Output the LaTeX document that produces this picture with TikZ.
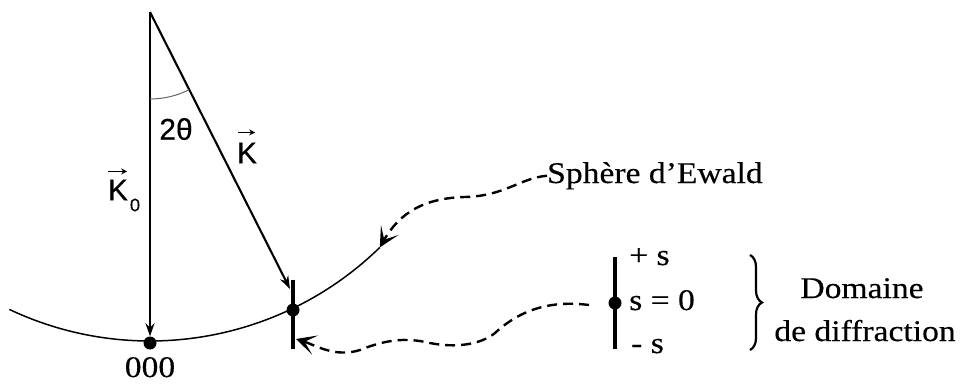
\documentclass[tikz,border=0pt]{standalone}
\usepackage{fontspec}
\usepackage{graphicx}
\setmainfont{Liberation Serif}[FakeBold=0.3]
\newfontfamily\sansf{Liberation Sans}[FakeBold=0.3]
\usetikzlibrary{arrows.meta,decorations.pathreplacing,calc}
\newcommand{\hstretch}[1]{\scalebox{1.12}[1]{#1}}
\begin{document}
\begin{tikzpicture}[x=1pt,y=1pt,
  lbl/.style={font=\fontsize{30}{32}\selectfont, inner sep=0pt},
  sanslbl/.style={font=\sansf\fontsize{30}{32}\selectfont, inner sep=0pt},
  dotn/.style={circle, fill=black, inner sep=0pt, minimum size=13pt},
  vecline/.style={line width=2.1pt, -{Stealth[length=13pt,width=9pt]}},
  vecsmall/.style={line width=1.5pt, -{Stealth[length=6pt,width=6pt]}},
  barline/.style={line width=3.4pt},
  sphere/.style={line width=1.5pt},
  dsh/.style={line width=2.4pt, dash pattern=on 10pt off 6pt, -{Stealth[length=20pt,width=20pt,inset=11pt]}},
  bracestyle/.style={line width=2.2pt, decorate, decoration={brace, amplitude=12pt}}
]
\useasboundingbox (0,0) rectangle (963,-383);
\coordinate (O) at (150,-12);
\coordinate (arcL) at ($(O)+(-115.3:329)$);
\coordinate (arcR) at ($(O)+(-45.7:329)$);
\coordinate (Ktip) at (290,-289);
\coordinate (bt) at (293,-280);
\coordinate (bb) at (293,-349);
\coordinate (tipB) at (296,-339);
\coordinate (c2) at (589,-305);
\coordinate (rt) at (615,-257);
\coordinate (rb) at (615,-349);
\coordinate (brT) at (750,-255);
\coordinate (brB) at (750,-350);

% Ewald sphere
\draw[sphere] (arcL) arc[start angle=-115.3, end angle=-45.7, radius=329];
% bar and dots
\draw[barline] (bt) -- (bb);
\node[dotn] (d000) at (150,-343) {};
\node[dotn] (dP) at (293,-310) {};
% vectors
\draw[vecline] (O) -- (d000);
\draw[vecline] (O) -- (Ktip);
% angle
\draw[line width=1pt, black!60] ($(O)+(0,-87)$) arc[start angle=-90, end angle=-63.3, radius=87];

% labels
\node[sanslbl] (tt) at (176,-129) {2θ};
\node[sanslbl] (K) at (247,-153) {K};
\draw[vecsmall] ($(K.north west)+(1,10)$) -- ($(K.north east)+(-2,10)$);
\node[sanslbl] (K0) at (118,-190) {K};
\draw[vecsmall] ($(K0.north west)+(0,8)$) -- ($(K0.north east)+(-1,8)$);
\node[font=\sansf\fontsize{18}{18}\selectfont, inner sep=0pt] (sub0) at (135,-205) {0};
\node[lbl, anchor=base] (lab000) at (150,-377) {\hstretch{000}};

\node[lbl, anchor=base west] (ew) at (547,-183) {\hstretch{Sphère d’Ewald}};
\draw[dsh] (ew.west) .. controls (520,-178) and (505,-196) .. (465,-197)
  .. controls (425,-198) and (400,-212) .. (arcR);

% diffraction domain
\draw[barline] (rt) -- (rb);
\node[dotn] (sd) at (615,-303) {};
\node[lbl, anchor=base west] (ps) at (629,-265) {\hstretch{+ s}};
\node[lbl, anchor=base west] (s0) at (629,-310) {\hstretch{s = 0}};
\node[lbl, anchor=base west] (ms) at (631,-353) {\hstretch{- s}};
\draw[bracestyle] (brT) -- (brB);
\node[lbl, anchor=base] (dom1) at (862,-298) {\hstretch{Domaine}};
\node[lbl, anchor=base] (dom2) at (865,-341) {\hstretch{de diffraction}};

\draw[dsh] (c2) .. controls (550,-300) and (520,-310) .. (495,-333)
  .. controls (480,-345) and (455,-348) .. (430,-343)
  .. controls (405,-337) and (385,-340) .. (360,-350)
  .. controls (335,-358) and (315,-345) .. (tipB);
\end{tikzpicture}
\end{document}
